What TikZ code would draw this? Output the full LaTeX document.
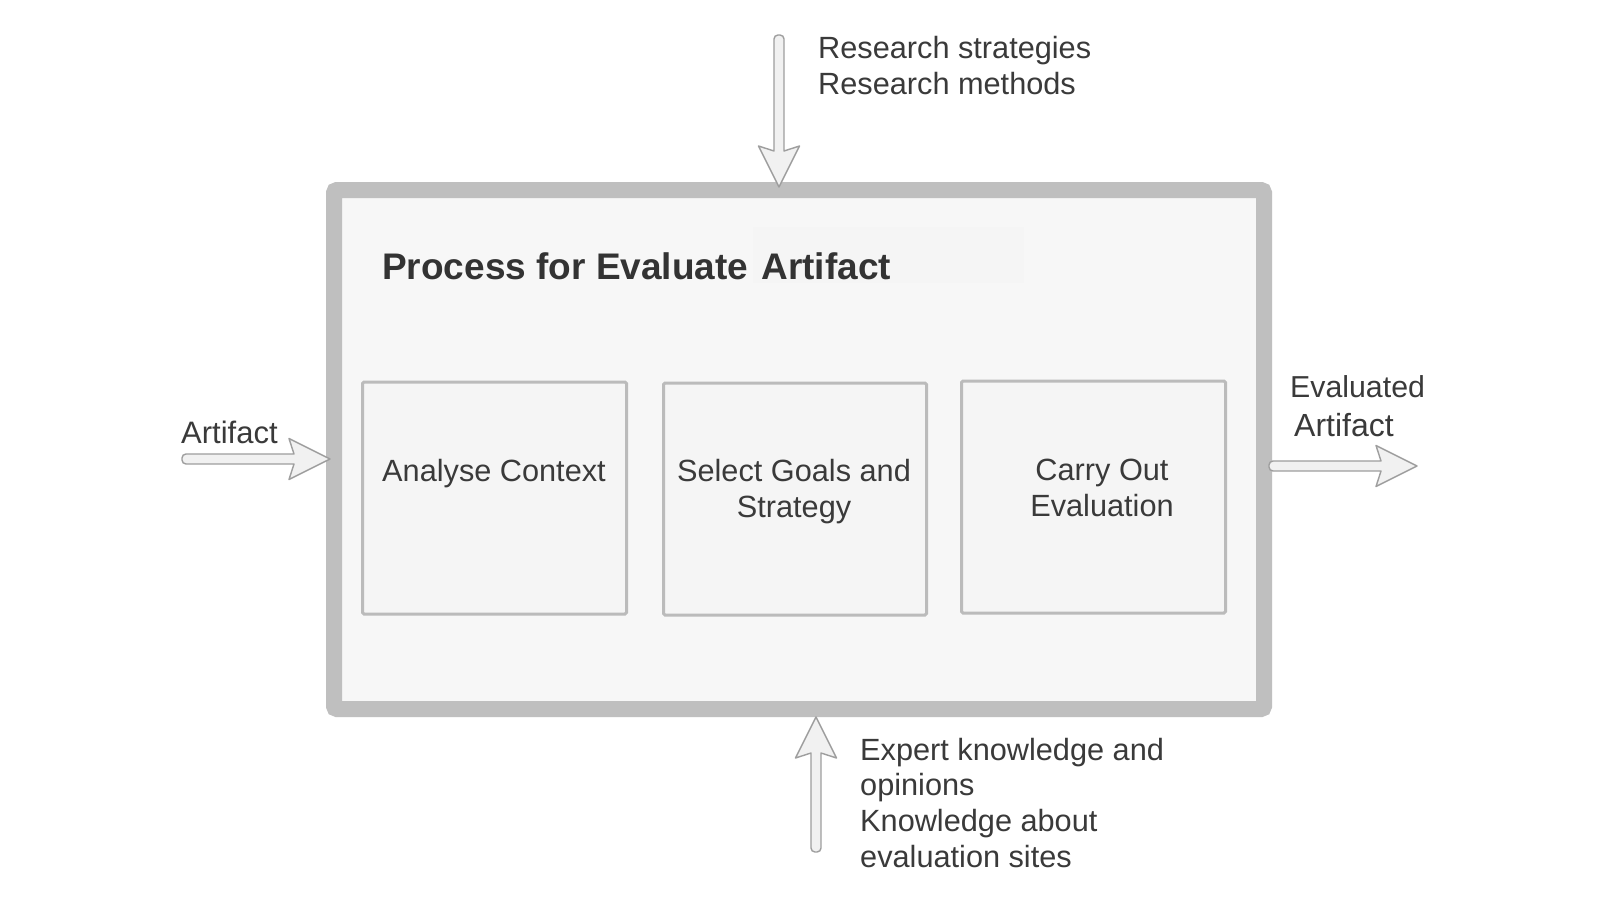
\documentclass[tikz,border=0pt]{standalone}
\usepackage{fontspec}
\setmainfont{Liberation Sans}
\usetikzlibrary{calc}
\definecolor{framegray}{HTML}{BFBFBF}
\definecolor{framefill}{HTML}{F7F7F7}
\definecolor{boxgray}{HTML}{BBBBBB}
\definecolor{boxfill}{HTML}{F5F5F5}
\definecolor{arrowgray}{HTML}{9E9E9E}
\definecolor{arrowfill}{HTML}{F1F1F1}
\definecolor{textgray}{HTML}{3A3A3A}
\definecolor{titlegray}{HTML}{333333}
\definecolor{faintbox}{HTML}{F5F5F5}
\newcommand\mlc[1]{\begin{tabular}[t]{@{}c@{}}#1\end{tabular}}
\newcommand\mll[1]{\begin{tabular}[t]{@{}l@{}}#1\end{tabular}}
\tikzset{
  lbl/.style={inner sep=0pt, text=textgray, font=\fontsize{30.7}{36}\selectfont},
  boxlbl/.style={inner sep=0pt, text=textgray, font=\fontsize{30.7}{36}\selectfont, anchor=base},
  titlelbl/.style={inner sep=0pt, text=titlegray, font=\fontsize{37}{44}\selectfont\bfseries, anchor=base west},
  procframe/.style={draw=framegray, line width=16pt, fill=framefill, rounded corners=3pt,
    minimum width=930pt, minimum height=519pt, inner sep=0pt},
  stepbox/.style={draw=boxgray, line width=3pt, fill=boxfill, rounded corners=1.5pt,
    minimum width=264pt, minimum height=232pt, inner sep=0pt},
  arrowbody/.style={draw=arrowgray, line width=1.4pt, fill=arrowfill, line join=round},
  pics/blockarrow/.style={code={
    \path[arrowbody] (0,0) -- (-41,-20.5) -- (-36,-5) [rounded corners=4pt] -- (-#1,-5)
      -- (-#1,5) [sharp corners] -- (-36,5) -- (-41,20.5) -- cycle;
  }}
}
\begin{document}
\begin{tikzpicture}[x=1pt,y=-1pt]
\path[use as bounding box, fill=white] (0,0) rectangle (1600,900);

% main process frame
\node[procframe] (proc) at (799,449.5) {};
\path[fill=faintbox] (753,227) rectangle (1024,283);
\node[titlelbl] (ttl) at (382,279) {Process for Evaluate\kern3pt{} Artifact};

% step boxes
\node[stepbox] (b1) at (494.5,498) {};
\node[stepbox, minimum width=263pt] (b2) at (795,499) {};
\node[stepbox] (b3) at (1093.5,497) {};
\node[boxlbl] (t1) at (494,481) {Analyse Context};
\node[boxlbl] (t2) at (794,481) {\mlc{Select Goals and\\Strategy}};
\node[boxlbl] (t3) at (1102,480) {\mlc{Carry Out\\Evaluation}};

% arrows
\coordinate (tipTop) at (779,187);
\coordinate (tipBot) at (816,717);
\coordinate (tipLeft) at (330,459);
\coordinate (tipRight) at (1417,466);
\pic[rotate=-90] at (tipTop) {blockarrow=152};
\pic[rotate=90] at (tipBot) {blockarrow=135};
\pic at (tipLeft) {blockarrow=148};
\pic at (tipRight) {blockarrow=148};

% labels
\node[lbl, anchor=base west] (topl) at (818,58) {\mll{Research strategies\\Research methods}};
\node[lbl, anchor=base west, font=\fontsize{30.7}{35.7}\selectfont] (botl) at (860,760)
  {\mll{Expert knowledge and\\opinions\\Knowledge about\\evaluation sites}};
\node[lbl, anchor=base west, font=\fontsize{31}{36}\selectfont] (inl) at (181,443) {Artifact};
\node[lbl, anchor=base west, font=\fontsize{30.3}{36}\selectfont] (outl1) at (1290,397) {Evaluated};
\node[lbl, anchor=base west, font=\fontsize{32}{36}\selectfont] (outl2) at (1294,436) {Artifact};
\end{tikzpicture}
\end{document}
